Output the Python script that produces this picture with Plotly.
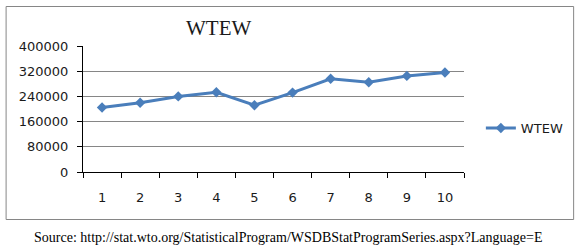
import plotly.graph_objects as go

categories = ["1", "2", "3", "4", "5", "6", "7", "8", "9", "10"]
wtew_values = [205000, 220000, 240000, 253000, 212000, 252000, 296000, 285000, 305000, 316000]
y_ticks = [0, 80000, 160000, 240000, 320000, 400000]
series_name = "WTEW"
title_text = "WTEW"
source_text = "Source: http://stat.wto.org/StatisticalProgram/WSDBStatProgramSeries.aspx?Language=E"

L, R, T, B = 83, 114, 46, 79
W, H = 581, 251
pw = W - L - R
ph = H - T - B

def px_x(p):
    return (p - L) / pw

def px_y(p):
    return (H - B - p) / ph

fig = go.Figure()
fig.add_trace(go.Scatter(
    x=categories, y=wtew_values, name=series_name, mode="lines+markers",
    line=dict(color="#4A7EBB", width=3),
    marker=dict(symbol="diamond", size=8, color="#4A7EBB"),
))

fig.update_layout(
    width=W, height=H,
    margin=dict(l=L, r=R, t=T, b=B),
    paper_bgcolor="white", plot_bgcolor="white",
    showlegend=True,
    legend=dict(x=px_x(484), y=px_y(128), xanchor="left", yanchor="middle",
                font=dict(family="DejaVu Sans", size=13, color="#1a1a1a"),
                bgcolor="rgba(0,0,0,0)"),
    font=dict(family="DejaVu Sans", size=13, color="#1a1a1a"),
)

fig.update_xaxes(
    type="category", range=[-0.5, 9.5], tickson="boundaries",
    ticks="outside", ticklen=5, tickcolor="black", tickwidth=1,
    showline=True, linecolor="black", linewidth=1,
    showgrid=False, ticklabelstandoff=13,
    tickfont=dict(family="DejaVu Sans", size=13, color="#1a1a1a"),
)
fig.update_yaxes(
    range=[0, 400000], tickvals=y_ticks, ticktext=[str(v) for v in y_ticks],
    ticks="outside", ticklen=5, tickcolor="black", tickwidth=1,
    showline=True, linecolor="black", linewidth=1,
    showgrid=True, gridcolor="#868686", gridwidth=1,
    zeroline=False, ticklabelstandoff=6,
    tickfont=dict(family="DejaVu Sans", size=13, color="#1a1a1a"),
)

fig.add_shape(type="rect", xref="paper", yref="paper",
              x0=px_x(5.5), x1=px_x(577.5), y0=px_y(219.5), y1=px_y(6.5),
              line=dict(color="#868686", width=1), layer="below")

fig.add_annotation(text=title_text, xref="paper", yref="paper",
                   x=px_x(220), y=px_y(28), showarrow=False,
                   xanchor="center", yanchor="middle",
                   font=dict(family="Liberation Serif", size=21, color="#1a1a1a"))

fig.add_annotation(text=source_text, xref="paper", yref="paper",
                   x=px_x(290), y=px_y(237), showarrow=False,
                   xanchor="center", yanchor="middle",
                   font=dict(family="Liberation Serif", size=14, color="black"))

fig.write_html("out.html", config={"displayModeBar": False},
               post_script="document.body.style.margin='0';document.body.style.overflow='hidden';")
